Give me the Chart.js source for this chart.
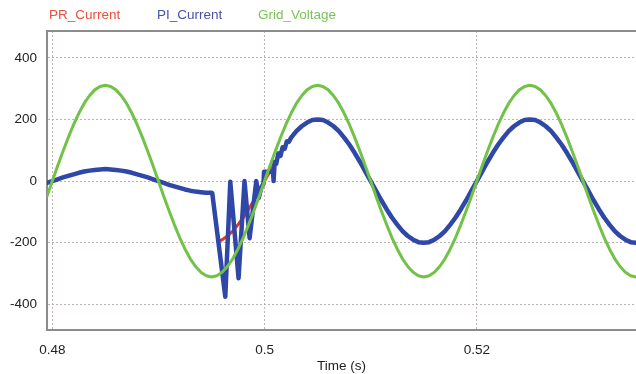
<!DOCTYPE html>
<html>
<head>
<meta charset="utf-8">
<script src="https://cdn.jsdelivr.net/npm/chart.js@4"></script>
<style>
  html, body { margin: 0; padding: 0; background: #fff; }
  canvas { display: block; }
</style>
</head>
<body>
<canvas id="chart" width="636" height="374"></canvas>
<script>
// 系列名
let seriesNames = ["PR_Current", "PI_Current", "Grid_Voltage"];

// 時間軸 (s)
let timeAxis = [
  0.4795, 0.48, 0.4805, 0.481, 0.4815, 0.482, 0.4825, 0.483, 0.4835, 0.484, 0.4845,
  0.485, 0.4855, 0.486, 0.4865, 0.487, 0.4875, 0.488, 0.4885, 0.489, 0.4895,
  0.49, 0.4905, 0.491, 0.4915, 0.492, 0.4925, 0.493, 0.4935, 0.494, 0.4945,
  0.495, 0.4955, 0.496, 0.4965, 0.497, 0.4975, 0.498, 0.4985, 0.499, 0.4995,
  0.5, 0.5005, 0.501, 0.5015, 0.502, 0.5025, 0.503, 0.5035, 0.504, 0.5045,
  0.505, 0.5055, 0.506, 0.5065, 0.507, 0.5075, 0.508, 0.5085, 0.509, 0.5095,
  0.51, 0.5105, 0.511, 0.5115, 0.512, 0.5125, 0.513, 0.5135, 0.514, 0.5145,
  0.515, 0.5155, 0.516, 0.5165, 0.517, 0.5175, 0.518, 0.5185, 0.519, 0.5195,
  0.52, 0.5205, 0.521, 0.5215, 0.522, 0.5225, 0.523, 0.5235, 0.524, 0.5245,
  0.525, 0.5255, 0.526, 0.5265, 0.527, 0.5275, 0.528, 0.5285, 0.529, 0.5295,
  0.53, 0.5305, 0.531, 0.5315, 0.532, 0.5325, 0.533, 0.5335, 0.534, 0.5345, 0.535
];

// 系統電圧 (timeAxis と同じ時刻)
let gridVoltage = [
  -49,
  0, 49, 96, 141, 183, 220, 252, 277, 296, 307, 311, 307, 296, 277, 252, 220, 183, 141, 96, 49,
  0, -49, -96, -141, -183, -220, -252, -277, -296, -307, -311, -307, -296, -277, -252, -220, -183, -141, -96, -49,
  0, 49, 96, 141, 183, 220, 252, 277, 296, 307, 311, 307, 296, 277, 252, 220, 183, 141, 96, 49,
  0, -49, -96, -141, -183, -220, -252, -277, -296, -307, -311, -307, -296, -277, -252, -220, -183, -141, -96, -49,
  0, 49, 96, 141, 183, 220, 252, 277, 296, 307, 311, 307, 296, 277, 252, 220, 183, 141, 96, 49,
  0, -49, -96, -141, -183, -220, -252, -277, -296, -307, -311
];

// PI制御の電流
let piTime = [
  0.4795, 0.48, 0.4805, 0.481, 0.4815, 0.482, 0.4825, 0.483, 0.4835, 0.484, 0.4845,
  0.485, 0.4855, 0.486, 0.4865, 0.487, 0.4875, 0.488, 0.4885, 0.489, 0.4895,
  0.49, 0.4905, 0.491, 0.4915, 0.492, 0.4925, 0.493, 0.4935, 0.494, 0.4945, 0.495,
  0.49507, 0.4963, 0.49677, 0.49755, 0.49811, 0.49859, 0.49922, 0.49945, 0.4997, 0.4999,
  0.49995, 0.5008, 0.50085, 0.50095, 0.5011, 0.5013, 0.5015, 0.5017, 0.5019, 0.5021, 0.5023, 0.5025,
  0.503, 0.5035, 0.504, 0.5045, 0.505, 0.5055, 0.506, 0.5065, 0.507, 0.5075,
  0.508, 0.5085, 0.509, 0.5095, 0.51, 0.5105, 0.511, 0.5115, 0.512, 0.5125,
  0.513, 0.5135, 0.514, 0.5145, 0.515, 0.5155, 0.516, 0.5165, 0.517, 0.5175,
  0.518, 0.5185, 0.519, 0.5195, 0.52, 0.5205, 0.521, 0.5215, 0.522, 0.5225,
  0.523, 0.5235, 0.524, 0.5245, 0.525, 0.5255, 0.526, 0.5265, 0.527, 0.5275,
  0.528, 0.5285, 0.529, 0.5295, 0.53, 0.5305, 0.531, 0.5315, 0.532, 0.5325,
  0.533, 0.5335, 0.534, 0.5345, 0.535
];
let piCurrent = [
  -6, 0, 6, 12, 17, 22, 27, 31, 34, 36, 38, 39, 38, 36, 34, 31, 27, 22, 17, 12, 6,
  0, -6, -12, -17, -22, -27, -31, -34, -36, -38, -38,
  -39, -375, -2, -315, 0, -185, 0, -55, -20, -8,
  30, 30, 0, 62, 56, 90, 82, 110, 105, 129, 128, 141,
  162, 178, 190, 198, 200, 198, 190, 178, 162, 141,
  118, 91, 62, 31, 0, -31, -62, -91, -118, -141,
  -162, -178, -190, -198, -200, -198, -190, -178, -162, -141,
  -118, -91, -62, -31, 0, 31, 62, 91, 118, 141,
  162, 178, 190, 198, 200, 198, 190, 178, 162, 141,
  118, 91, 62, 31, 0, -31, -62, -91, -118, -141,
  -162, -178, -190, -198, -200
];

// PR制御の電流
let prTime = [
  0.49573, 0.496, 0.4965, 0.497, 0.4975, 0.498, 0.4985, 0.499, 0.4995,
  0.5, 0.5005, 0.501, 0.5015, 0.502, 0.5025, 0.503, 0.5035, 0.504, 0.5045,
  0.505, 0.5055, 0.506, 0.5065, 0.507, 0.5075, 0.508, 0.5085, 0.509, 0.5095,
  0.51, 0.5105, 0.511, 0.5115, 0.512, 0.5125, 0.513, 0.5135, 0.514, 0.5145,
  0.515, 0.5155, 0.516, 0.5165, 0.517, 0.5175, 0.518, 0.5185, 0.519, 0.5195,
  0.52, 0.5205, 0.521, 0.5215, 0.522, 0.5225, 0.523, 0.5235, 0.524, 0.5245,
  0.525, 0.5255, 0.526, 0.5265, 0.527, 0.5275, 0.528, 0.5285, 0.529, 0.5295,
  0.53, 0.5305, 0.531, 0.5315, 0.532, 0.5325, 0.533, 0.5335, 0.534, 0.5345, 0.535
];
let prCurrent = [
  -195, -190, -178, -162, -141, -118, -91, -62, -31,
  0, 31, 62, 91, 118, 141, 162, 178, 190, 198,
  200, 198, 190, 178, 162, 141, 118, 91, 62, 31,
  0, -31, -62, -91, -118, -141, -162, -178, -190, -198,
  -200, -198, -190, -178, -162, -141, -118, -91, -62, -31,
  0, 31, 62, 91, 118, 141, 162, 178, 190, 198,
  200, 198, 190, 178, 162, 141, 118, 91, 62, 31,
  0, -31, -62, -91, -118, -141, -162, -178, -190, -198, -200
];

// 目盛り
let xTickValues = [0.48, 0.5, 0.52];
let xTickLabels = ["0.48", "0.5", "0.52"];
let yTickValues = [-400, -200, 0, 200, 400];

let colors = ["#e5352b", "#2f47a6", "#72c247"];
let legendColors = ["#e8503c", "#4a52a6", "#78c456"];
let fontFamily = "'Liberation Sans', Arial, sans-serif";

function toPoints(xs, ys) {
  return xs.map((x, i) => ({ x: x, y: ys[i] }));
}

// 凡例と上の枠線
let framePlugin = {
  id: "frame",
  beforeDatasetsDraw(chart) {
    let c = chart.ctx, a = chart.chartArea;
    c.save();
    c.strokeStyle = "#8c8c8c";
    c.lineWidth = 2;
    c.beginPath();
    c.moveTo(a.left - 1, a.top);
    c.lineTo(a.right, a.top);
    c.stroke();
    c.restore();
  },
  afterDraw(chart) {
    let c = chart.ctx;
    let xs = [49, 157, 258];
    c.save();
    c.font = "13.5px " + fontFamily;
    c.textBaseline = "middle";
    c.textAlign = "left";
    seriesNames.forEach((name, i) => {
      c.fillStyle = legendColors[i];
      c.fillText(name, xs[i], 15);
    });
    c.restore();
  }
};

let ctx = document.getElementById("chart").getContext("2d");
let chart = new Chart(ctx, {
  type: "line",
  data: {
    datasets: [
      { label: seriesNames[0], data: toPoints(prTime, prCurrent), borderColor: colors[0], borderWidth: 3, order: 3 },
      { label: seriesNames[1], data: toPoints(piTime, piCurrent), borderColor: colors[1], borderWidth: 4.5, order: 2 },
      { label: seriesNames[2], data: toPoints(timeAxis, gridVoltage), borderColor: colors[2], borderWidth: 3, order: 1 }
    ]
  },
  options: {
    responsive: false,
    animation: false,
    parsing: false,
    layout: { padding: { top: 31, left: 0, right: 0, bottom: 0 } },
    elements: {
      point: { radius: 0 },
      line: { tension: 0, borderJoinStyle: "round", borderCapStyle: "round" }
    },
    plugins: { legend: { display: false }, tooltip: { enabled: false } },
    scales: {
      x: {
        type: "linear",
        min: 0.4795,
        max: 0.535,
        afterFit: s => { s.height = 44; },
        afterBuildTicks: s => { s.ticks = xTickValues.map(v => ({ value: v })); },
        ticks: {
          padding: 12,
          color: "#222",
          font: { family: fontFamily, size: 13.5 },
          maxRotation: 0,
          callback: (v) => xTickLabels[xTickValues.indexOf(v)]
        },
        grid: { color: "rgba(180,165,165,0.85)", lineWidth: 1, drawTicks: false },
        border: { color: "#8c8c8c", width: 2, dash: [2, 2] },
        title: {
          display: true,
          text: "Time (s)",
          color: "#222",
          font: { family: fontFamily, size: 13.5 },
          padding: { top: 0, bottom: 0 }
        }
      },
      y: {
        type: "linear",
        min: -483,
        max: 487,
        afterFit: s => { s.width = 47; },
        afterBuildTicks: s => { s.ticks = yTickValues.map(v => ({ value: v })); },
        ticks: {
          padding: 10,
          color: "#222",
          font: { family: fontFamily, size: 13.5 }
        },
        grid: { color: "rgba(180,165,165,0.85)", lineWidth: 1, drawTicks: false },
        border: { color: "#8c8c8c", width: 2, dash: [2, 2] }
      }
    }
  },
  plugins: [framePlugin]
});
</script>
</body>
</html>
